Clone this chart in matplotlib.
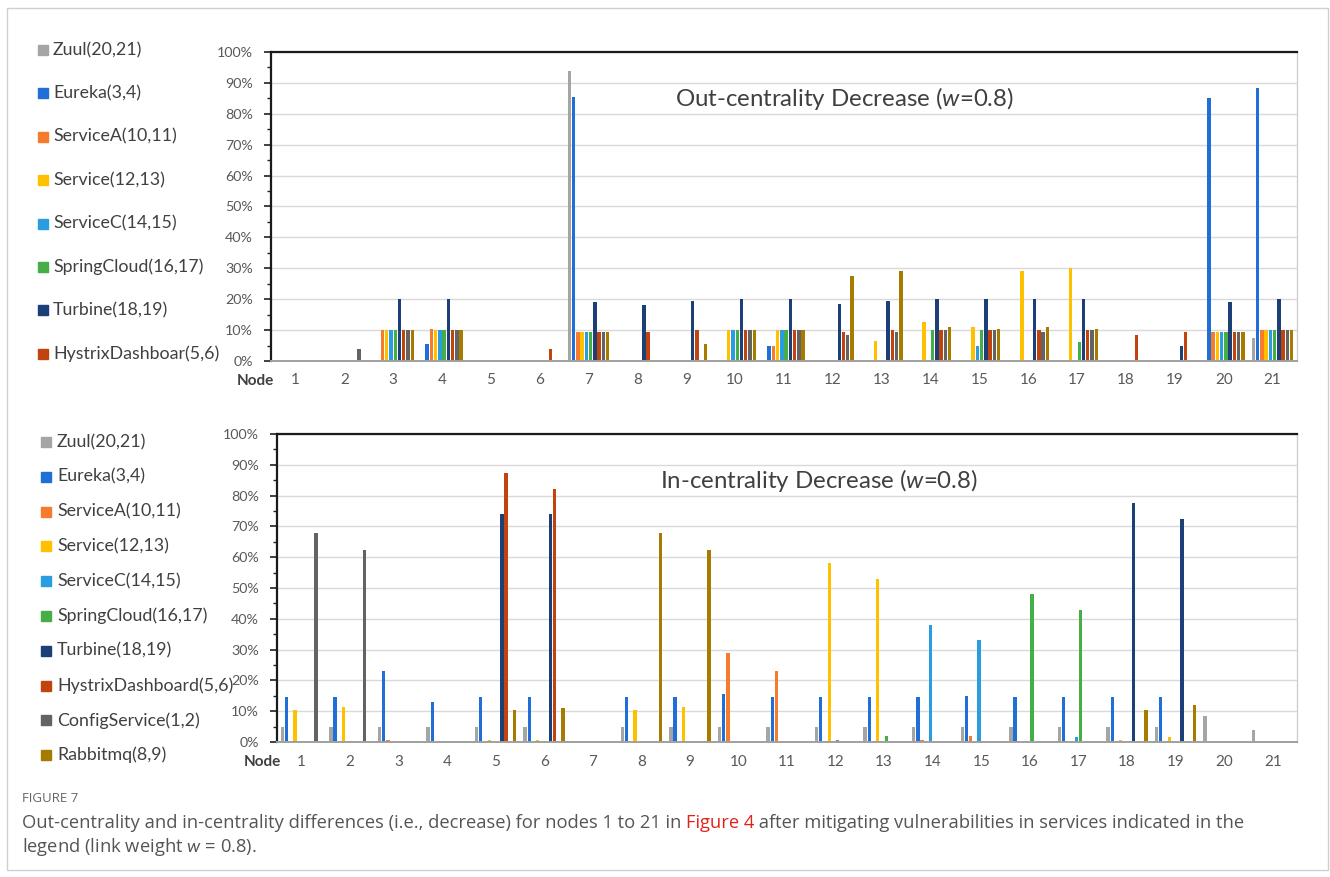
import numpy as np
import matplotlib
matplotlib.use("Agg")
import matplotlib.pyplot as plt
from matplotlib.ticker import MultipleLocator, PercentFormatter
from matplotlib.patches import Rectangle

plt.rcParams['font.family'] = ['Lato', 'DejaVu Sans']
plt.rcParams['mathtext.fontset'] = 'custom'
plt.rcParams['mathtext.rm'] = 'Lato'
plt.rcParams['mathtext.it'] = 'Lato:italic'

nodes = [str(i) for i in range(1, 22)]

series_names = ["Zuul(20,21)", "Eureka(3,4)", "ServiceA(10,11)", "Service(12,13)",
                "ServiceC(14,15)", "SpringCloud(16,17)", "Turbine(18,19)",
                "HystrixDashboard(5,6)", "ConfigService(1,2)", "Rabbitmq(8,9)"]
top_legend_names = ["Zuul(20,21)", "Eureka(3,4)", "ServiceA(10,11)", "Service(12,13)",
                    "ServiceC(14,15)", "SpringCloud(16,17)", "Turbine(18,19)",
                    "HystrixDashboar(5,6)"]
colors = ["#A5A5A5", "#1F6FD6", "#F77B2C", "#FFC000", "#2A9DE0",
          "#46AE46", "#1D3F78", "#C1440E", "#636363", "#A77A00"]

# Out-centrality decrease (%) per node 1..21
out_zuul    = [0, 0, 0, 0, 0, 0, 94, 0, 0, 0, 0, 0, 0, 0, 0, 0, 0, 0, 0, 0, 7.5]
out_eureka  = [0, 0, 0, 5.5, 0, 0, 85.5, 0, 0, 0, 5, 0, 0, 0, 0, 0, 0, 0, 0, 85, 88.5]
out_servA   = [0, 0, 10, 10.5, 0, 0, 9.5, 0, 0, 0, 5, 0, 0, 0, 0, 0, 0, 0, 0, 9.5, 10]
out_serv    = [0, 0, 10, 10, 0, 0, 9.5, 0, 0, 10, 10, 0, 6.5, 12.5, 11, 29, 30, 0, 0, 9.5, 10]
out_servC   = [0, 0, 10, 10, 0, 0, 9.5, 0, 0, 10, 10, 0, 0, 0, 5, 0, 0, 0, 0, 9.5, 10]
out_spring  = [0, 0, 10, 10, 0, 0, 9.5, 0, 0, 10, 10, 0, 0, 10, 10, 0, 6, 0, 0, 9.5, 10]
out_turbine = [0, 0, 20, 20, 0, 0, 19, 18, 19.5, 20, 20, 18.5, 19.5, 20, 20, 20, 20, 0, 5, 19, 20]
out_hystrix = [0, 0, 10, 10, 0, 4, 9.5, 9.5, 10, 10, 10, 9.5, 10, 10, 10, 10, 10, 8.5, 9.5, 9.5, 10]
out_config  = [0, 4, 10, 10, 0, 0, 9.5, 0, 0, 10, 10, 8.5, 9.5, 10, 10, 9.5, 10, 0, 0, 9.5, 10]
out_rabbit  = [0, 0, 10, 10, 0, 0, 9.5, 0, 5.5, 10, 10, 27.5, 29, 11, 10.5, 11, 10.5, 0, 0, 9.5, 10]

# In-centrality decrease (%) per node 1..21
in_zuul    = [5, 5, 5, 5, 5, 5, 0, 5, 5, 5, 5, 5, 5, 5, 5, 5, 5, 5, 5, 8.5, 4]
in_eureka  = [14.5, 14.5, 23, 13, 14.5, 14.5, 0, 14.5, 14.5, 15.5, 14.5, 14.5, 14.5, 14.5, 15, 14.5, 14.5, 14.5, 14.5, 0, 0]
in_servA   = [0, 0, 0.8, 0, 0, 0, 0, 0, 0, 29, 23, 0, 0, 0.5, 2, 0, 0, 0, 0, 0, 0]
in_serv    = [10.5, 11.5, 0, 0, 0.5, 0.8, 0, 10.5, 11.5, 0, 0, 58, 53, 0, 0, 0, 0, 0.5, 1.5, 0, 0]
in_servC   = [0, 0, 0, 0, 0, 0, 0, 0, 0, 0, 0, 0, 0, 38, 33, 0.4, 1.5, 0, 0, 0, 0]
in_spring  = [0, 0.3, 0, 0, 0, 0, 0, 0, 0.3, 0, 0, 0.5, 2, 0, 0, 48, 43, 0, 0, 0, 0]
in_turbine = [0, 0, 0, 0, 74, 74, 0, 0, 0, 0, 0, 0, 0, 0, 0, 0, 0, 77.5, 72.5, 0, 0]
in_hystrix = [0, 0, 0, 0, 87.5, 82, 0, 0, 0, 0, 0, 0, 0, 0, 0, 0, 0, 0, 0, 0, 0]
in_config  = [68, 62.5, 0, 0, 0, 0, 0, 0, 0, 0, 0, 0, 0, 0, 0, 0, 0, 0, 0, 0, 0]
in_rabbit  = [0, 0, 0, 0, 10.5, 11, 0, 68, 62.5, 0, 0, 0, 0, 0, 0, 0, 0, 10.5, 12, 0, 0]

out_series = [out_zuul, out_eureka, out_servA, out_serv, out_servC, out_spring,
              out_turbine, out_hystrix, out_config, out_rabbit]
in_series = [in_zuul, in_eureka, in_servA, in_serv, in_servC, in_spring,
             in_turbine, in_hystrix, in_config, in_rabbit]

W, H = 1330, 877
fig = plt.figure(figsize=(W / 100, H / 100), dpi=100)


def fx(px):
    return px / W


def fy(py):
    return 1 - py / H


# outer frame
fig.patches.append(Rectangle((fx(7), fy(870)), fx(1321), 862 / H, transform=fig.transFigure,
                             fill=False, edgecolor="#CFCFCF", linewidth=1.0))

TXT = "#404040"
TICK = "#595959"


def panel(rect, data, legend_names, title, title_xy, legend_y0, legend_dy, node_x,
          mk_x, txt_x):
    l, t, r, b = rect
    ax = fig.add_axes([fx(l), fy(b), fx(r - l), (b - t) / H])
    x = np.arange(1, len(nodes) + 1)
    nser = len(data)
    pitch = 0.087
    for i, (vals, c) in enumerate(zip(data, colors)):
        ax.bar(x + (i - (nser - 1) / 2) * pitch, np.array(vals) / 100.0, width=pitch * 0.8,
               color=c, linewidth=0, zorder=2)
    ax.set_xlim(0.5, len(nodes) + 0.5)
    ax.set_ylim(0, 1.0)
    ax.yaxis.set_major_locator(MultipleLocator(0.1))
    ax.yaxis.set_minor_locator(MultipleLocator(0.05))
    ax.yaxis.set_major_formatter(PercentFormatter(1.0, decimals=0))
    ax.grid(axis="y", which="major", color="#D9D9D9", linewidth=1.0, zorder=0)
    ax.set_axisbelow(True)
    ax.set_xticks(x)
    ax.set_xticklabels(nodes)
    ax.tick_params(axis="x", length=0, pad=9, labelsize=11, labelcolor=TICK)
    ax.tick_params(axis="y", which="major", length=5, width=1.2, color="#202020",
                   labelsize=10.3, labelcolor=TICK, pad=8)
    ax.tick_params(axis="y", which="minor", length=3, width=1.0, color="#202020")
    for s in ["left", "top"]:
        ax.spines[s].set_color("#1A1A1A")
        ax.spines[s].set_linewidth(1.6)
    ax.spines["bottom"].set_color("#A0A0A0")
    ax.spines["bottom"].set_linewidth(1.4)
    ax.spines["right"].set_color("#D0D0D0")
    ax.spines["right"].set_linewidth(1.0)
    for s in ax.spines.values():
        s.set_zorder(3)
    ax.text(title_xy[0], title_xy[1], title, transform=fig.transFigure,
            ha="center", va="center", fontsize=17.3, color=TXT)
    fig.text(fx(node_x), fy(b + 20), "Node", ha="center", va="center",
             fontsize=11, fontweight="bold", color=TXT)
    for k, name in enumerate(legend_names):
        yy = legend_y0 + k * legend_dy
        fig.patches.append(Rectangle((fx(mk_x), fy(yy + 5)), fx(10), 10 / H,
                                     transform=fig.transFigure, color=colors[k]))
        fig.text(fx(txt_x), fy(yy), name, ha="left", va="center", fontsize=12.8, color=TXT)
    return ax


panel((271, 52, 1297, 361), out_series, top_legend_names,
      r"Out-centrality Decrease ($w$=0.8)", (fx(844), fy(98)), 50, 43.4, 255, 38, 53)
panel((277, 434, 1297, 742), in_series, series_names,
      r"In-centrality Decrease ($w$=0.8)", (fx(819), fy(480)), 442, 34.8, 262, 41, 57)

# caption
CAP = "#555555"
fig.text(fx(22), fy(798), "FIGURE 7", ha="left", va="center", fontsize=9.5, color="#666666",
         family=["Open Sans", "DejaVu Sans"])
fig.canvas.draw()
renderer = fig.canvas.get_renderer()
parts = [("Out-centrality and in-centrality differences (i.e., decrease) for nodes 1 to 21 in ", CAP),
         ("Figure 4", "#E2231A"),
         (" after mitigating vulnerabilities in services indicated in the", CAP)]
fs = 12.5
target = 1252 - 22
full = "".join(p[0] for p in parts)
tmp = fig.text(0, 0, full, fontsize=fs, family=["Open Sans", "DejaVu Sans"])
wpx = tmp.get_window_extent(renderer).width
tmp.remove()
fs = fs * target / wpx
xcur = 22
for s, c in parts:
    t = fig.text(fx(xcur), fy(823), s, ha="left", va="center", fontsize=fs, color=c,
                 family=["Open Sans", "DejaVu Sans"])
    xcur += t.get_window_extent(renderer).width
fig.text(fx(22), fy(847), r"legend (link weight $w$ = 0.8).", ha="left", va="center",
         fontsize=fs, color=CAP, family=["Open Sans", "DejaVu Sans"])

fig.savefig("out.png", dpi=100)
